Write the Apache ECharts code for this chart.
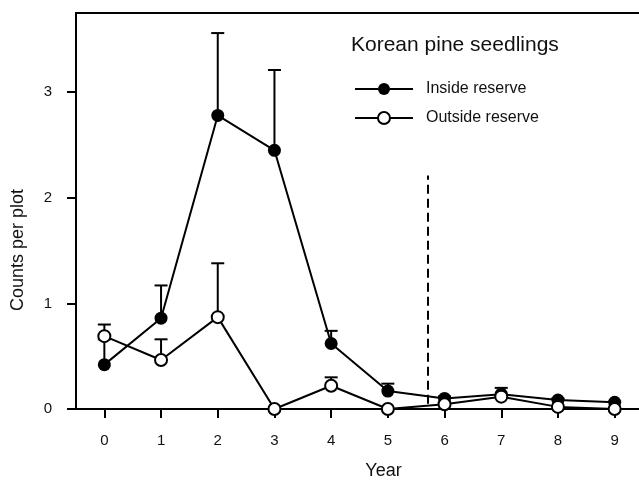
<!DOCTYPE html>
<html>
<head>
<meta charset="utf-8">
<script src="https://cdn.jsdelivr.net/npm/echarts@6/dist/echarts.min.js"></script>
<style>html,body{margin:0;padding:0;background:#fff}#c{width:639px;height:482px}</style>
</head>
<body>
<div id="c"></div>
<script>
var years = [0, 1, 2, 3, 4, 5, 6, 7, 8, 9];
var insideMean  = [0.42, 0.86, 2.78, 2.45, 0.62, 0.17, 0.10, 0.14, 0.085, 0.063];
var insideUpper = [0.66, 1.17, 3.56, 3.21, 0.74, 0.24, 0.12, 0.20, 0.10, 0.07];
var outsideMean  = [0.69, 0.464, 0.87, 0, 0.22, 0, 0.045, 0.117, 0.02, 0];
var outsideUpper = [0.80, 0.66, 1.38, 0, 0.30, 0, 0.05, 0.13, 0.02, 0];
var yTicks = [0, 1, 2, 3];
var xTicks = [0, 1, 2, 3, 4, 5, 6, 7, 8, 9];
var dividerYear = 5.7;
var dividerRange = [0.05, 2.21];

var FONT = 'Liberation Sans, Arial, Helvetica, sans-serif';

function pairs(xs, ys) { return xs.map(function (x, i) { return [x, ys[i]]; }); }
function errData(xs, m, u) { return xs.map(function (x, i) { return [x, m[i], u[i]]; }); }

function errRender(params, api) {
  var x = api.value(0), lo = api.value(1), hi = api.value(2);
  if (hi <= lo) return null;
  var p1 = api.coord([x, lo]), p2 = api.coord([x, hi]);
  var hw = 6.5;
  return {
    type: 'group',
    children: [
      { type: 'line', shape: { x1: p1[0], y1: p1[1], x2: p2[0], y2: p2[1] }, style: { stroke: '#000', lineWidth: 2 } },
      { type: 'line', shape: { x1: p2[0] - hw, y1: p2[1], x2: p2[0] + hw, y2: p2[1] }, style: { stroke: '#000', lineWidth: 2 } }
    ]
  };
}

var chart = echarts.init(document.getElementById('c'), null, { renderer: 'canvas' });
chart.setOption({
  animation: false,
  backgroundColor: '#fff',
  title: {
    text: 'Korean pine seedlings',
    left: 346, top: 30,
    textStyle: { fontFamily: FONT, fontSize: 21, fontWeight: 'normal', color: '#111' }
  },
  legend: {
    orient: 'vertical',
    left: 349, top: 76,
    itemWidth: 58, itemHeight: 15, itemGap: 13,
    data: ['Inside reserve', 'Outside reserve'],
    textStyle: { fontFamily: FONT, fontSize: 16, color: '#111', padding: [0, 0, 0, 8] }
  },
  grid: { left: 76, top: 13, right: -4, bottom: 73, outerBoundsMode: 'none', containLabel: false, show: true, borderColor: '#000', borderWidth: 2 },
  xAxis: {
    type: 'value', min: -0.5, max: 9.5,
    name: 'Year', nameLocation: 'middle', nameGap: 53,
    nameTextStyle: { fontFamily: FONT, fontSize: 18, color: '#111', padding: [0, 0, 0, 48] },
    axisLine: { show: true, onZero: false, lineStyle: { color: '#000', width: 2 } },
    axisTick: { show: true, inside: false, length: 9, customValues: xTicks, lineStyle: { color: '#000', width: 2 } },
    axisLabel: { customValues: xTicks, margin: 24, fontFamily: FONT, fontSize: 15, color: '#111' },
    splitLine: { show: false }
  },
  yAxis: {
    type: 'value', min: 0, max: 3.75,
    name: 'Counts per plot', nameLocation: 'middle', nameGap: 49, nameRotate: 90,
    nameTextStyle: { fontFamily: FONT, fontSize: 18, color: '#111', padding: [0, 78, 0, 0] },
    axisLine: { show: true, onZero: false, lineStyle: { color: '#000', width: 2 } },
    axisTick: { show: true, inside: false, length: 9, customValues: yTicks, lineStyle: { color: '#000', width: 2 } },
    axisLabel: { customValues: yTicks, margin: 24, fontFamily: FONT, fontSize: 15, color: '#111', padding: [6, 0, 0, 0] },
    splitLine: { show: false }
  },
  series: [
    {
      name: 'Inside err', type: 'custom', renderItem: errRender, z: 1,
      data: errData(years, insideMean, insideUpper), encode: { x: 0, y: [1, 2] }, silent: true
    },
    {
      name: 'Outside err', type: 'custom', renderItem: errRender, z: 1,
      data: errData(years, outsideMean, outsideUpper), encode: { x: 0, y: [1, 2] }, silent: true
    },
    {
      name: 'Inside reserve', type: 'line', z: 3,
      data: pairs(years, insideMean),
      symbol: 'circle', symbolSize: 13, showAllSymbol: true,
      lineStyle: { color: '#000', width: 2 },
      itemStyle: { color: '#000', borderColor: '#000', borderWidth: 0 },
      markLine: {
        silent: true, symbol: 'none', label: { show: false },
        lineStyle: { color: '#000', width: 2, type: [9, 5] },
        data: [[{ coord: [dividerYear, dividerRange[0]] }, { coord: [dividerYear, dividerRange[1]] }]]
      }
    },
    {
      name: 'Outside reserve', type: 'line', z: 4,
      data: pairs(years, outsideMean),
      symbol: 'circle', symbolSize: 12, showAllSymbol: true,
      lineStyle: { color: '#000', width: 2 },
      itemStyle: { color: '#fff', borderColor: '#000', borderWidth: 2 }
    }
  ]
});
</script>
</body>
</html>
